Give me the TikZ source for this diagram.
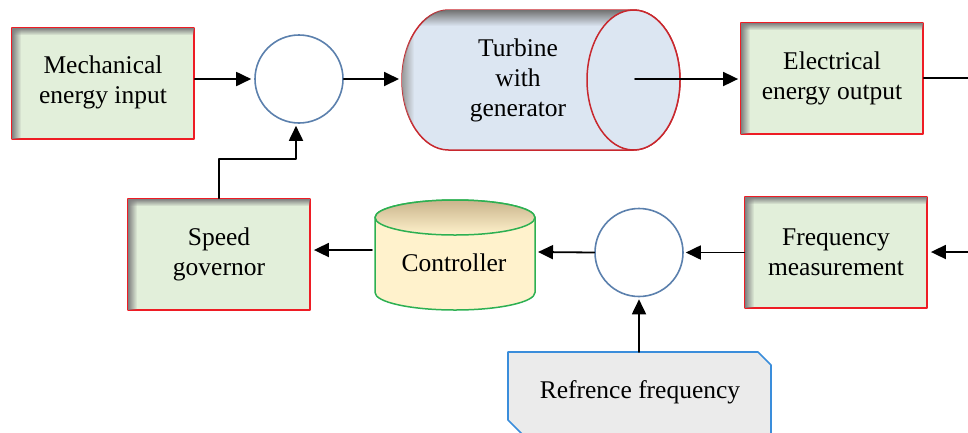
\documentclass[tikz,border=0pt]{standalone}
\usepackage{fontspec}
\setmainfont{Liberation Serif}
\usetikzlibrary{arrows.meta,fadings}
\definecolor{boxgreen}{HTML}{E2EFDA}
\definecolor{boxred}{HTML}{EE1C24}
\definecolor{circblue}{HTML}{5B80AD}
\definecolor{turbblue}{HTML}{DCE6F2}
\definecolor{turbred}{HTML}{C8282E}
\definecolor{ctrlyellow}{HTML}{FFF2CC}
\definecolor{ctrlshade}{HTML}{C9B48C}
\definecolor{ctrlgreen}{HTML}{2DB052}
\definecolor{refgray}{HTML}{EBEBEB}
\definecolor{refblue}{HTML}{3A8DDB}
\tikzfading[name=shadefromleft,left color=transparent!0,right color=transparent!100]
\tikzfading[name=shadefromtop,top color=transparent!0,bottom color=transparent!100]
\tikzset{
	blockbox/.style={draw=boxred,fill=boxgreen,line width=1.8pt,minimum width=182pt,minimum height=111pt,inner sep=0pt,align=center},
	sumcirc/.style={circle,draw=circblue,fill=white,line width=1.6pt,minimum size=88pt,inner sep=0pt},
	sig/.style={line width=1.8pt,->},
	lbl/.style={align=center}
}
% inner shadow on the left and top edge of a block
\newcommand{\boxshade}[1]{%
	\fill[black!50,path fading=shadefromleft] ([xshift=0.9pt,yshift=-0.9pt]#1.north west) rectangle ([xshift=10pt,yshift=0.9pt]#1.south west);
	\fill[black!50,path fading=shadefromtop] ([xshift=0.9pt,yshift=-0.9pt]#1.north west) rectangle ([xshift=-0.9pt,yshift=-8pt]#1.north east);}

\begin{document}
\begin{tikzpicture}[line cap=round,line join=round,>={Triangle[length=15pt,width=14pt]},x=1pt,y=1pt,font=\rmfamily\fontsize{25.5}{30}\selectfont]
	\clip (0,0) rectangle (968,-432);
	\useasboundingbox (0,0) rectangle (968,-432);
	% top row
	\node[blockbox] (mech) at (103,-83.5) {};
	\boxshade{mech}
	\node[lbl] at (103,-82) {Mechanical\\energy input};
	\node[sumcirc] (circ1) at (299,-79) {};
	% turbine drum
	\path[draw=turbred,fill=turbblue,line width=1.5pt] (448.5,-10) -- (633.5,-10) arc[start angle=90,end angle=-90,x radius=46.5,y radius=70] -- (448.5,-150) arc[start angle=270,end angle=90,x radius=46.5,y radius=70] -- cycle;
	\begin{scope}
		\clip (448.5,-10) -- (633.5,-10) arc[start angle=90,end angle=-90,x radius=46.5,y radius=70] -- (448.5,-150) arc[start angle=270,end angle=90,x radius=46.5,y radius=70] -- cycle;
		\fill[black!55,path fading=shadefromtop] (402,-10) rectangle (680,-26);
		\fill[black!40,path fading=shadefromleft] (402,-10) rectangle (414,-150);
	\end{scope}
	\draw[turbred,fill=turbblue,line width=1.5pt] (633.5,-80) ellipse [x radius=46.5,y radius=70];
	\node[lbl] (turb) at (518,-80) {Turbine\\with\\generator};
	\coordinate (turbin) at (402,-79);
	\coordinate (turbout) at (635,-79);
	\node[blockbox] (elec) at (832,-78.5) {};
	\boxshade{elec}
	\node[lbl] at (elec.center) {Electrical\\energy output};
	\coordinate (outend) at (968,-78);
	% bottom row
	\node[blockbox] (speed) at (219,-254.5) {};
	\boxshade{speed}
	\node[lbl] at (speed.center) {Speed\\governor};
	\path[draw=ctrlgreen,fill=ctrlyellow,line width=1.5pt] (375,-217.5) -- (375,-292.5) arc[start angle=180,end angle=360,x radius=80,y radius=17.5] -- (535,-217.5) arc[start angle=0,end angle=180,x radius=80,y radius=17.5] -- cycle;
	\draw[ctrlgreen,top color=ctrlshade,bottom color=ctrlyellow,line width=1.5pt] (455,-217.5) ellipse [x radius=80,y radius=17.5];
	\node[lbl] (ctrl) at (454,-263) {Controller};
	\coordinate (ctrlW) at (375,-250);
	\coordinate (ctrlE) at (535,-252);
	\node[sumcirc] (circ2) at (639,-252.5) {};
	\node[blockbox] (freq) at (836,-252.5) {};
	\boxshade{freq}
	\node[lbl] at (freq.center) {Frequency\\measurement};
	\coordinate (inend) at (968,-252);
	% reference
	\path[draw=refblue,fill=refgray,line width=1.6pt] (508,-352) -- (758,-352) -- (771,-365) -- (771,-445) -- (533,-445) -- (508,-420) -- cycle;
	\node[lbl] (ref) at (640,-392) {Refrence frequency};
	\coordinate (refN) at (639,-352);
	% signals
	\draw[sig] (mech.east |- circ1) -- ([xshift=-3pt]circ1.west);
	\draw[sig] (circ1.east) -- ([xshift=-3pt]turbin);
	\draw[sig] (turbout) -- ([xshift=-2pt]turbout -| elec.west);
	\draw[line width=1.8pt] (outend -| elec.east) -- (outend);
	\draw[sig] (speed.north) -- ++(0,39) -| ([shift={(-3pt,-2pt)}]circ1.south);
	\draw[sig] ([xshift=-3pt]ctrlW) -- ([xshift=3pt]ctrlW -| speed.east);
	\draw[sig] (circ2.west) -- ([xshift=3pt]ctrlE);
	\draw[sig] (freq.west |- circ2) -- ([xshift=2pt]circ2.east);
	\draw[sig] (inend) -- ([xshift=3pt]inend -| freq.east);
	\draw[sig] (refN) -- ([yshift=-2pt]circ2.south);
\end{tikzpicture}
\end{document}
